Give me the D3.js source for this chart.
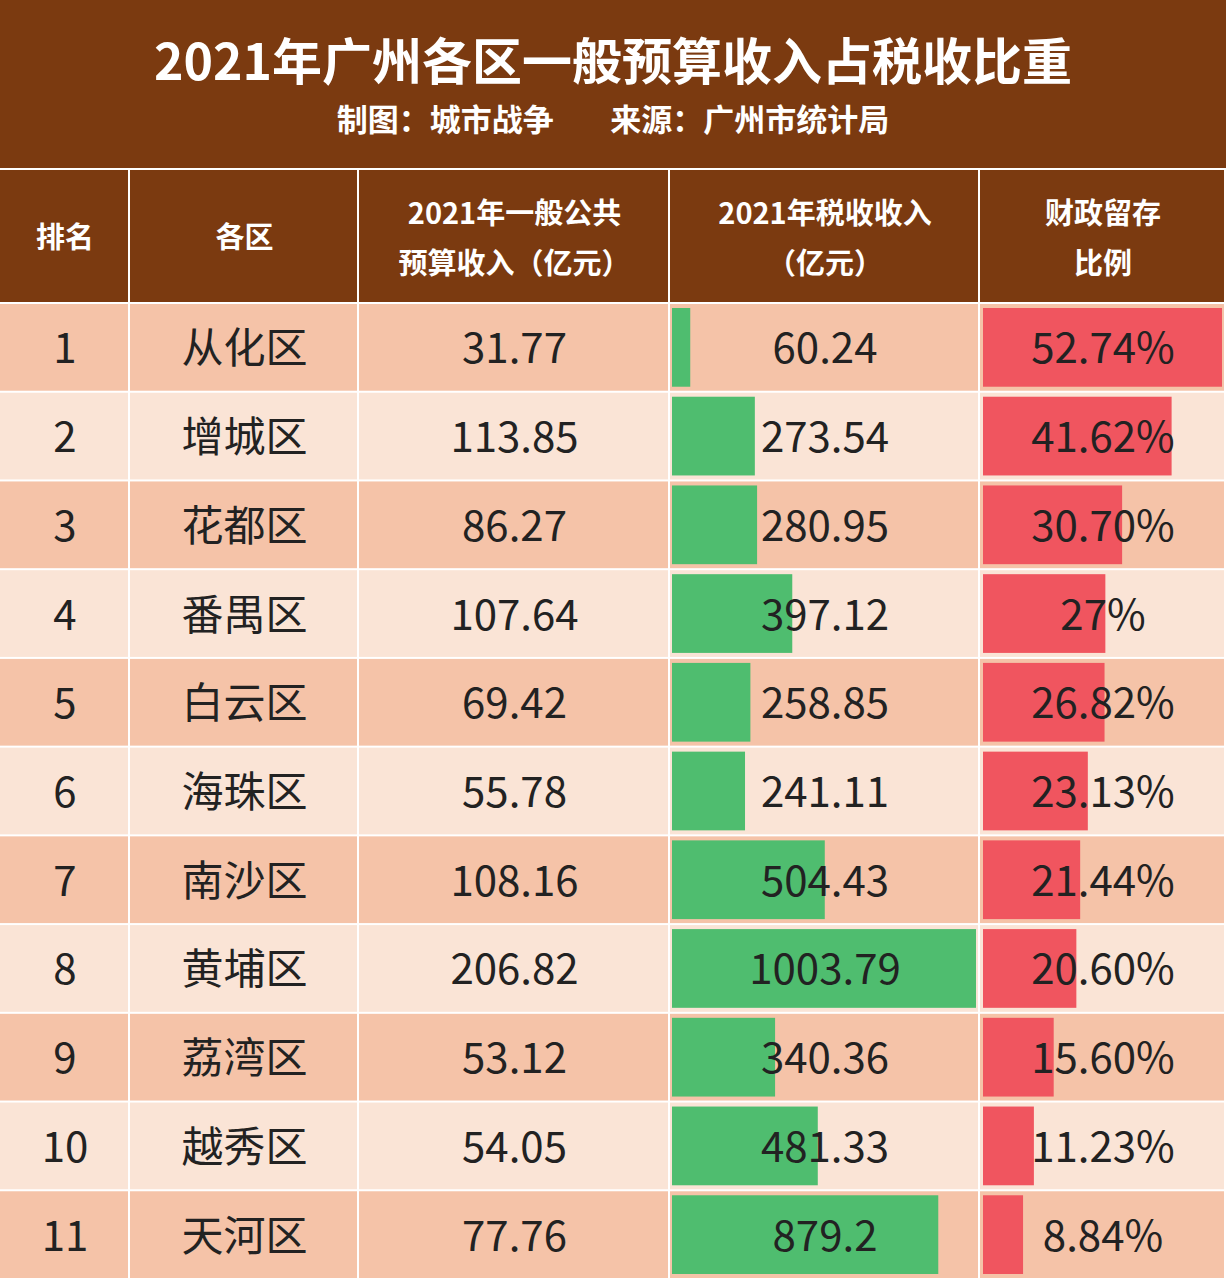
<!DOCTYPE html>
<meta charset="utf-8">
<style>
  body { margin: 0; background: #fff; }
  svg { display: block; font-family: "Noto Sans CJK SC", sans-serif; }
</style>
<body>
<svg id="chart" width="1226" height="1280"></svg>
<script src="https://d3js.org/d3.v7.min.js"></script>
<script>
  const title = "2021年广州各区一般预算收入占税收比重";
  const subtitle = "制图：城市战争        来源：广州市统计局";
  const headers = [["排名"], ["各区"], ["2021年一般公共", "预算收入（亿元）"], ["2021年税收收入", "（亿元）"], ["财政留存", "比例"]];
  const districts = ["从化区", "增城区", "花都区", "番禺区", "白云区", "海珠区", "南沙区", "黄埔区", "荔湾区", "越秀区", "天河区"];
  const budget = ["31.77", "113.85", "86.27", "107.64", "69.42", "55.78", "108.16", "206.82", "53.12", "54.05", "77.76"];
  const tax = [60.24, 273.54, 280.95, 397.12, 258.85, 241.11, 504.43, 1003.79, 340.36, 481.33, 879.2];
  const ratio = [52.74, 41.62, 30.70, 27, 26.82, 23.13, 21.44, 20.60, 15.60, 11.23, 8.84];
  const ratioLabels = ["52.74%", "41.62%", "30.70%", "27%", "26.82%", "23.13%", "21.44%", "20.60%", "15.60%", "11.23%", "8.84%"];

  const svg = d3.select("#chart");
  const colEdges = [0, 130, 359, 670, 980, 1226];
  const brown = "#7b3a10";

  // title band
  svg.append("rect").attr("width", 1226).attr("height", 168).attr("fill", brown);
  svg.append("text").attr("x", 613).attr("y", 80).attr("text-anchor", "middle")
    .attr("fill", "#fff").attr("font-size", 50).attr("font-weight", 700).text(title);
  svg.append("text").attr("x", 613).attr("y", 131).attr("text-anchor", "middle")
    .attr("fill", "#fff").attr("font-size", 31).attr("font-weight", 700)
    .attr("xml:space", "preserve").style("white-space", "pre").text(subtitle);

  // header row
  const headTop = 170, headBot = 304;
  headers.forEach((h, i) => {
    svg.append("rect").attr("x", colEdges[i]).attr("y", headTop)
      .attr("width", colEdges[i + 1] - colEdges[i] - 2).attr("height", headBot - headTop - 2).attr("fill", brown);
    const cx = (colEdges[i] + colEdges[i + 1]) / 2;
    h.forEach((line, j) => {
      svg.append("text").attr("x", cx).attr("y", h.length === 1 ? 248 : 224 + j * 50)
        .attr("text-anchor", "middle").attr("fill", "#fff").attr("font-size", 29).attr("font-weight", 700).text(line);
    });
  });

  const y = d3.scaleBand().domain(d3.range(districts.length)).range([headBot, 1280]);
  const xTax = d3.scaleLinear().domain([0, d3.max(tax)]).range([0, 304]);
  const xRatio = d3.scaleLinear().domain([0, d3.max(ratio)]).range([0, 239]);

  const rows = svg.selectAll("g.row").data(districts).join("g").attr("class", "row")
    .attr("transform", (d, i) => `translate(0,${y(i)})`);
  const bh = y.bandwidth();

  rows.each(function(d, i) {
    const g = d3.select(this);
    const bg = i % 2 === 0 ? "#f5c3a8" : "#fae4d6";
    for (let c = 0; c < 5; c++) {
      g.append("rect").attr("x", colEdges[c]).attr("y", 0)
        .attr("width", colEdges[c + 1] - colEdges[c] - 2).attr("height", bh - 2).attr("fill", bg);
    }
    g.append("rect").attr("x", 672).attr("y", 4).attr("width", xTax(tax[i])).attr("height", bh - 10).attr("fill", "#4fbd6f");
    g.append("rect").attr("x", 983).attr("y", 4).attr("width", xRatio(ratio[i])).attr("height", bh - 10).attr("fill", "#f0555f");
    const texts = [String(i + 1), d, budget[i], String(tax[i]), ratioLabels[i]];
    texts.forEach((t, c) => {
      g.append("text").attr("x", (colEdges[c] + colEdges[c + 1]) / 2).attr("y", bh / 2 + 15)
        .attr("text-anchor", "middle").attr("fill", "#222").attr("font-size", 42).text(t);
    });
  });
</script>
</body>
